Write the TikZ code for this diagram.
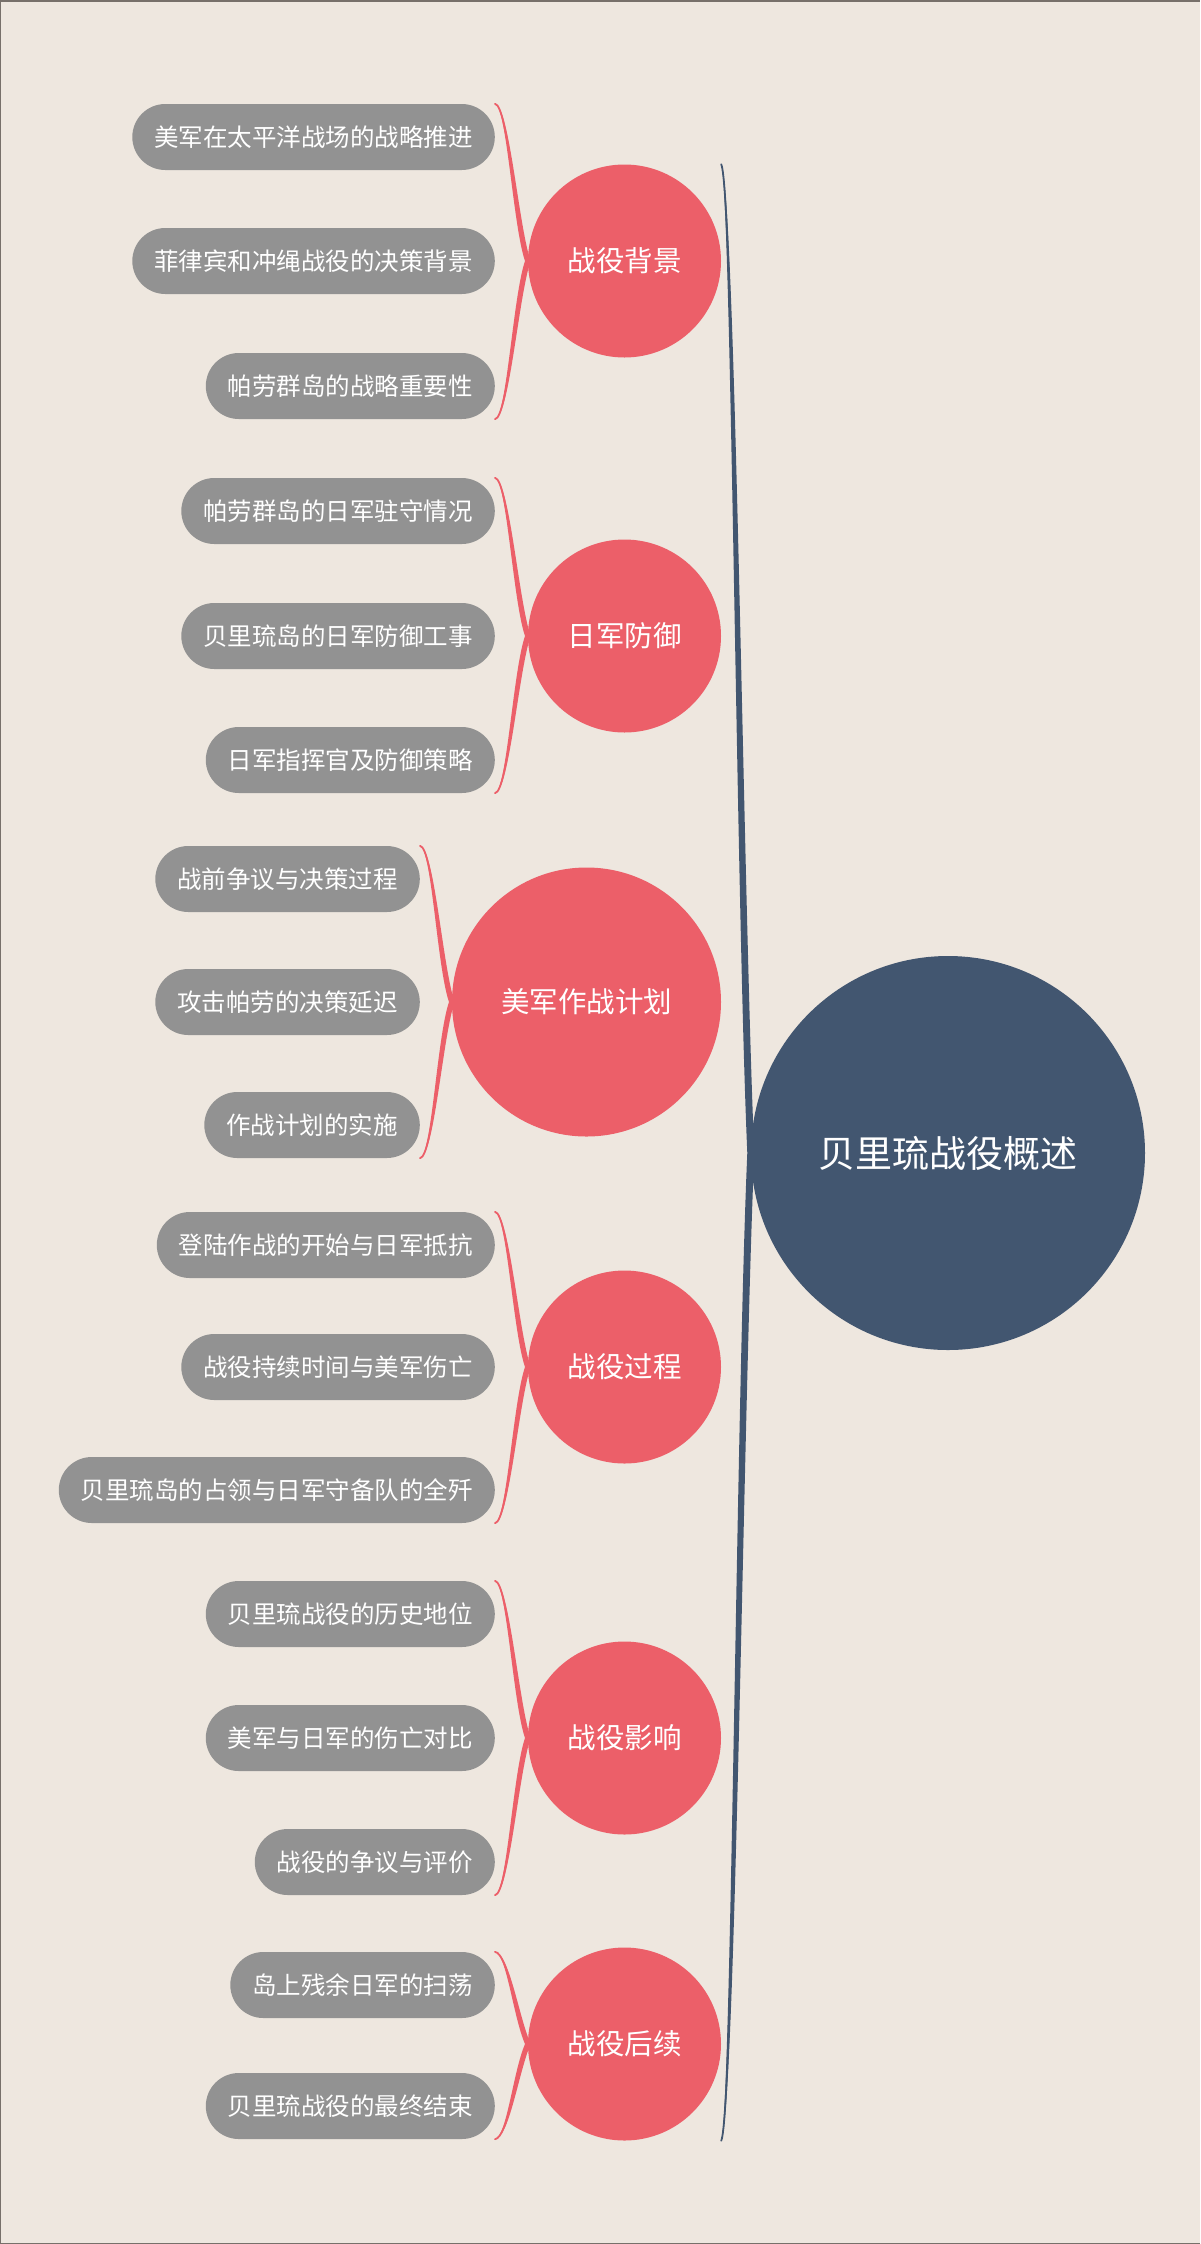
\documentclass[tikz,border=0pt]{standalone}
\usepackage{fontspec}
\newfontfamily\cjk{Noto Sans CJK SC}
\usetikzlibrary{calc}
\definecolor{bgc}{HTML}{EEE7DF}
\definecolor{framec}{HTML}{77706A}
\definecolor{pillc}{HTML}{929292}
\definecolor{brc}{HTML}{EC5F69}
\definecolor{trunkc}{HTML}{425670}
\pgfdeclarelayer{bglayer}
\pgfdeclarelayer{linelayer}
\pgfsetlayers{bglayer,linelayer,main}
% tapered half of a brace: #1 free end, #2 tip, #3 first control offset (from end),
% #4 second control offset (from tip), #5 colour, #6 half width at tip, #7 half width near end
\newcommand\halfbr[7]{%
  \fill[#5] (#1) .. controls ($(#1)+#3+(#7,0)$) and ($(#2)+#4+(#6,0)$) .. ($(#2)+(#6,0)$)
     -- ($(#2)+(-#6,0)$) .. controls ($(#2)+#4+(-#6,0)$) and ($(#1)+#3+(-#7,0)$) .. (#1) -- cycle;
  \draw[#5, line width=1.8pt, line cap=round] (#1) .. controls ($(#1)+#3$) and ($(#2)+#4$) .. (#2);}
\begin{document}
\begin{tikzpicture}[x=1pt,y=-1pt,
  pill/.style={anchor=east, fill=pillc, text=white, rounded corners=33pt,
    minimum height=66pt, inner xsep=22pt, inner ysep=0pt,
    font=\cjk\fontsize{24.5pt}{24.5pt}\selectfont},
  branch/.style={circle, fill=brc, text=white, minimum size=193pt, inner sep=0pt,
    font=\cjk\fontsize{28.5pt}{28.5pt}\selectfont},
  rootnode/.style={circle, fill=trunkc, text=white, minimum size=394pt, inner sep=0pt,
    font=\cjk\fontsize{37pt}{37pt}\selectfont}]
\begin{pgfonlayer}{bglayer}
  \fill[bgc] (0,0) rectangle (1200,2244);
  \fill[framec] (0,0) rectangle (1200,1.5);
  \fill[framec] (0,0) rectangle (1,2244);
  \fill[framec] (0,2242.5) rectangle (1200,2244);
\end{pgfonlayer}
\useasboundingbox (0,0) rectangle (1200,2244);

\node[rootnode] (root) at (948,1153) {贝里琉战役概述};

\node[branch] (b1) at (624.5,261) {战役背景};
\node[branch] (b2) at (624.5,636) {日军防御};
\node[branch, minimum size=269pt] (b3) at (586.5,1002) {美军作战计划};
\node[branch] (b4) at (624.5,1367) {战役过程};
\node[branch] (b5) at (624.5,1738) {战役影响};
\node[branch] (b6) at (624.5,2044) {战役后续};

\node[pill] (p11) at (495,137) {美军在太平洋战场的战略推进};
\node[pill] (p12) at (495,261) {菲律宾和冲绳战役的决策背景};
\node[pill] (p13) at (495,386) {帕劳群岛的战略重要性};

\node[pill] (p21) at (495,511) {帕劳群岛的日军驻守情况};
\node[pill] (p22) at (495,636) {贝里琉岛的日军防御工事};
\node[pill] (p23) at (495,760) {日军指挥官及防御策略};

\node[pill] (p31) at (420,879) {战前争议与决策过程};
\node[pill] (p32) at (420,1002) {攻击帕劳的决策延迟};
\node[pill] (p33) at (420,1125) {作战计划的实施};

\node[pill] (p41) at (495,1245) {登陆作战的开始与日军抵抗};
\node[pill] (p42) at (495,1367) {战役持续时间与美军伤亡};
\node[pill] (p43) at (495,1490) {贝里琉岛的占领与日军守备队的全歼};

\node[pill] (p51) at (495,1614) {贝里琉战役的历史地位};
\node[pill] (p52) at (495,1738) {美军与日军的伤亡对比};
\node[pill] (p53) at (495,1862) {战役的争议与评价};

\node[pill] (p61) at (495,1985) {岛上残余日军的扫荡};
\node[pill] (p62) at (495,2106) {贝里琉战役的最终结束};

\begin{pgfonlayer}{linelayer}
  \halfbr{p11.north east}{b1.west}{(13,2)}{(-12,-35)}{brc}{2.8}{1.4}
  \halfbr{p13.south east}{b1.west}{(13,-2)}{(-12,35)}{brc}{2.8}{1.4}
  \halfbr{p21.north east}{b2.west}{(13,2)}{(-12,-35)}{brc}{2.8}{1.4}
  \halfbr{p23.south east}{b2.west}{(13,-2)}{(-12,35)}{brc}{2.8}{1.4}
  \halfbr{p31.north east}{b3.west}{(13,2)}{(-12,-35)}{brc}{2.8}{1.4}
  \halfbr{p33.south east}{b3.west}{(13,-2)}{(-12,35)}{brc}{2.8}{1.4}
  \halfbr{p41.north east}{b4.west}{(13,2)}{(-12,-35)}{brc}{2.8}{1.4}
  \halfbr{p43.south east}{b4.west}{(13,-2)}{(-12,35)}{brc}{2.8}{1.4}
  \halfbr{p51.north east}{b5.west}{(13,2)}{(-12,-35)}{brc}{2.8}{1.4}
  \halfbr{p53.south east}{b5.west}{(13,-2)}{(-12,35)}{brc}{2.8}{1.4}
  \halfbr{p61.north east}{b6.west}{(13,2)}{(-12,-28)}{brc}{2.8}{1.4}
  \halfbr{p62.south east}{b6.west}{(13,-2)}{(-12,28)}{brc}{2.8}{1.4}
  \coordinate (ttop) at (b1.east |- b1.north);
  \coordinate (tbot) at (b6.east |- b6.south);
  \halfbr{ttop}{root.west}{(12,24)}{(-11,-253)}{trunkc}{3.5}{2.2}
  \halfbr{tbot}{root.west}{(12,-24)}{(-11,253)}{trunkc}{3.5}{2.2}
\end{pgfonlayer}
\end{tikzpicture}
\end{document}
